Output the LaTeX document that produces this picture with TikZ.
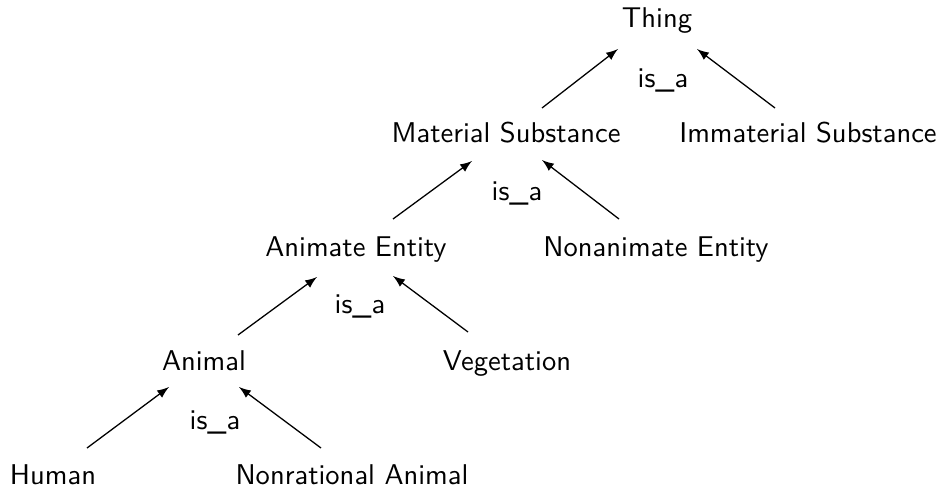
\documentclass[tikz,border=0pt]{standalone}
\usepackage{tikz}
\usetikzlibrary{calc,arrows}

\begin{document}
\begin{tikzpicture}[x=0.35pt,y=-0.35pt,
    concept/.style={anchor=base, inner sep=0pt, font=\sffamily},
    relname/.style={anchor=base, inner sep=0pt, font=\sffamily},
    isa/.style={->, >=latex, line width=0.45pt}]
    \useasboundingbox (0,0) rectangle (943,491);
    % concepts, row by row
    \node[concept] (thing) at (657,28) {Thing};
    \node[concept] (matsub) at (506,142) {Material Substance};
    \node[concept] (immatsub) at (808,142) {Immaterial Substance};
    \node[concept] (animent) at (356,256) {Animate Entity};
    \node[concept] (nonanim) at (656,256) {Nonanimate Entity};
    \node[concept] (animal) at (204,370) {Animal};
    \node[concept] (veget) at (507,370) {Vegetation};
    \node[concept] (human) at (53,484) {Human};
    \node[concept] (nonrat) at (352,484) {Nonrational Animal};
    % relation labels
    \node[relname] (isa1) at (663,88) {is\_a};
    \node[relname] (isa2) at (517,200) {is\_a};
    \node[relname] (isa3) at (360,313) {is\_a};
    \node[relname] (isa4) at (215,429) {is\_a};
    % edges
    \draw[isa] ($(matsub.base)+(36,-34)$) -- ($(thing.base)+(-39,21)$);
    \draw[isa] ($(immatsub.base)+(-33,-34)$) -- ($(thing.base)+(40,21)$);
    \draw[isa] ($(animent.base)+(37,-37)$) -- ($(matsub.base)+(-34,19)$);
    \draw[isa] ($(nonanim.base)+(-37,-37)$) -- ($(matsub.base)+(36,18)$);
    \draw[isa] ($(animal.base)+(34,-35)$) -- ($(animent.base)+(-39,21)$);
    \draw[isa] ($(veget.base)+(-39,-38)$) -- ($(animent.base)+(37,20)$);
    \draw[isa] ($(human.base)+(34,-36)$) -- ($(animal.base)+(-35,17)$);
    \draw[isa] ($(nonrat.base)+(-31,-36)$) -- ($(animal.base)+(35,17)$);
\end{tikzpicture}
\end{document}
